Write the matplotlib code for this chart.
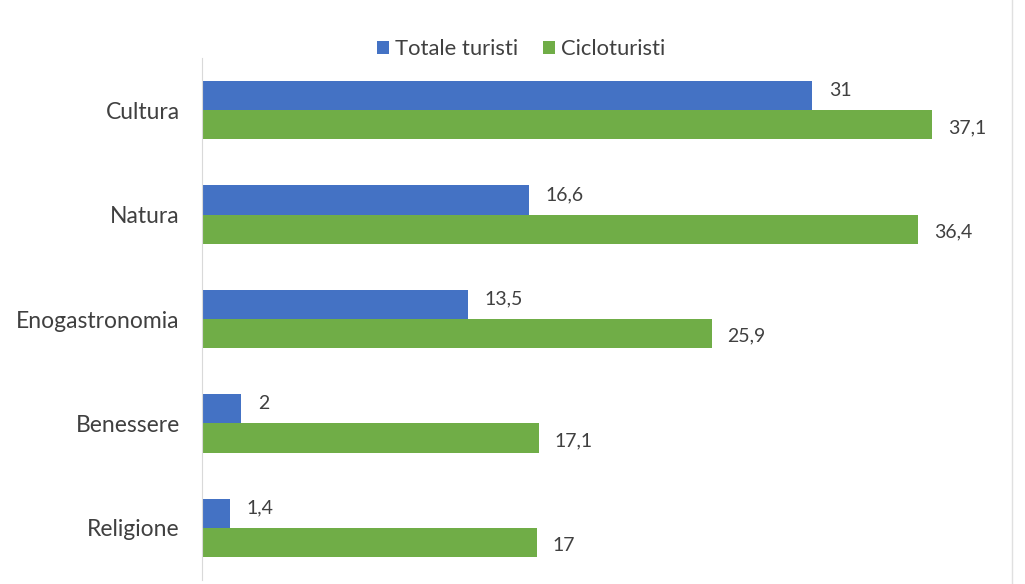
import matplotlib.pyplot as plt
import numpy as np
from matplotlib.lines import Line2D

categories = ['Cultura', 'Natura', 'Enogastronomia', 'Benessere', 'Religione']
totale = [31, 16.6, 13.5, 2, 1.4]
ciclo = [37.1, 36.4, 25.9, 17.1, 17]
totale_lbl = ['31', '16,6', '13,5', '2', '1,4']
ciclo_lbl = ['37,1', '36,4', '25,9', '17,1', '17']

plt.rcParams['font.family'] = ['Lato', 'DejaVu Sans']

fig = plt.figure(figsize=(10.25, 5.84), dpi=100, facecolor='w')
ax = fig.add_axes([202/1025, 4/584, 798/1025, 522/584])

y = np.arange(len(categories))
h = 0.28
ax.barh(y - h/2, totale, height=h, color='#4472C4', label='Totale turisti')
ax.barh(y + h/2, ciclo, height=h, color='#70AD47', label='Cicloturisti')

# etichette dei valori accanto alle barre
for i in range(len(categories)):
    ax.text(totale[i] + 0.85, y[i] - h/2 - 0.05, totale_lbl[i], va='center', ha='left',
            fontsize=14, color='#404040')
    ax.text(ciclo[i] + 0.8, y[i] + h/2 + 0.025, ciclo_lbl[i], va='center', ha='left',
            fontsize=14, color='#404040')

ax.set_ylim(len(categories) - 0.5, -0.5)
ax.set_xlim(0, 40.55)
ax.set_yticks(y)
ax.set_yticklabels(categories, fontsize=16.5, color='#404040')
ax.set_xticks([])
ax.yaxis.set_tick_params(length=0, pad=16)
for spine in ('top', 'right', 'bottom'):
    ax.spines[spine].set_visible(False)
ax.spines['left'].set_color('#d9d9d9')

leg = ax.legend(loc='center', bbox_to_anchor=(0.4, 1.0 + 9/522), ncol=2, frameon=False,
                fontsize=15.8, handlelength=0.55, handleheight=0.55, handletextpad=0.3,
                columnspacing=1.1, borderaxespad=0.0)
for t in leg.get_texts():
    t.set_color('#404040')

fig.add_artist(Line2D([1012/1025, 1012/1025], [0, 1], color='#e0e0e0', lw=1))

fig.savefig('out.png', dpi=100)
